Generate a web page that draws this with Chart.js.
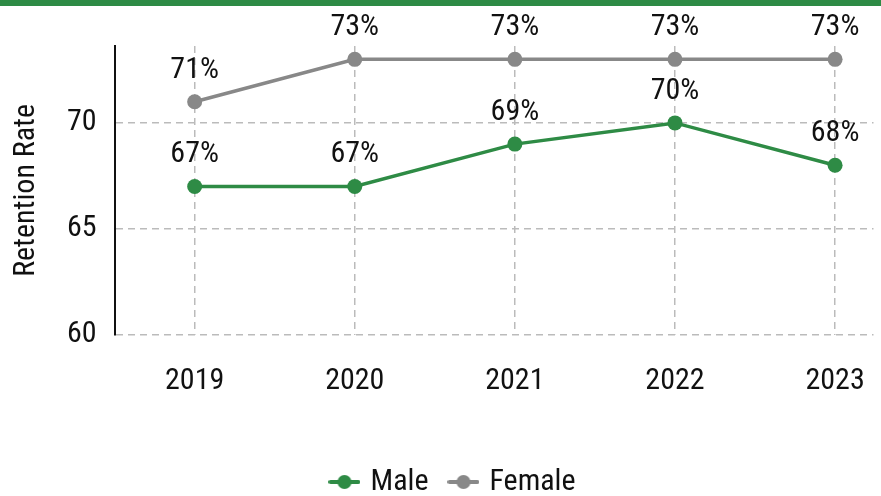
<!DOCTYPE html>
<html>
<head>
<meta charset="utf-8">
<script src="https://cdn.jsdelivr.net/npm/chart.js@4"></script>
<style>
  html, body { margin: 0; padding: 0; background: #fff; }
  .wrap { width: 881px; height: 490px; border-top: 6px solid #2e8b45; }
</style>
</head>
<body>
<div class="wrap"><canvas id="retentionChart" width="881" height="490"></canvas></div>
<script>
// chart data
const years = ['2019', '2020', '2021', '2022', '2023'];
const male = [67, 67, 69, 70, 68];
const female = [71, 73, 73, 73, 73];
const yTicks = [60, 65, 70];

const GREEN = '#2e8b45';
const GREY = '#888888';
const TEXT = '#111111';

Chart.defaults.font.family = "'Roboto Condensed', 'Liberation Sans Narrow', 'Arial Narrow', 'DejaVu Sans Condensed', sans-serif";
Chart.defaults.color = TEXT;

// small line+dot icon for the legend
function legendIcon(color) {
    const c = document.createElement('canvas');
    c.width = 32;
    c.height = 16;
    const g = c.getContext('2d');
    g.strokeStyle = color;
    g.lineWidth = 4;
    g.lineCap = 'round';
    g.beginPath();
    g.moveTo(2, 8);
    g.lineTo(30, 8);
    g.stroke();
    g.fillStyle = color;
    g.beginPath();
    g.arc(16, 8, 7, 0, Math.PI * 2);
    g.fill();
    return c;
}
const icons = [legendIcon(GREEN), legendIcon(GREY)];

// percent labels above every point
const valueLabels = {
    id: 'valueLabels',
    afterDatasetsDraw(chart) {
        const ctx = chart.ctx;
        ctx.save();
        ctx.font = "30px " + Chart.defaults.font.family;
        ctx.fillStyle = TEXT;
        ctx.textAlign = 'center';
        ctx.textBaseline = 'alphabetic';
        chart.data.datasets.forEach((ds, di) => {
            const meta = chart.getDatasetMeta(di);
            meta.data.forEach((pt, i) => {
                ctx.fillText(ds.data[i].y + '%', pt.x, pt.y - 24);
            });
        });
        ctx.restore();
    }
};

const toPoints = arr => arr.map((v, i) => ({ x: i, y: v }));

const ctx = document.getElementById('retentionChart').getContext('2d');
new Chart(ctx, {
    type: 'line',
    data: {
        datasets: [
            {
                label: 'Male',
                data: toPoints(male),
                borderColor: GREEN,
                backgroundColor: GREEN,
                borderWidth: 3.5,
                pointRadius: 7.5,
                pointHoverRadius: 7.5,
                pointBorderWidth: 0,
                tension: 0
            },
            {
                label: 'Female',
                data: toPoints(female),
                borderColor: GREY,
                backgroundColor: GREY,
                borderWidth: 3.5,
                pointRadius: 7.5,
                pointHoverRadius: 7.5,
                pointBorderWidth: 0,
                tension: 0
            }
        ]
    },
    options: {
        responsive: false,
        animation: false,
        layout: {
            padding: { top: 40, left: 28, right: 0, bottom: -11 }
        },
        scales: {
            x: {
                type: 'linear',
                min: -0.5,
                max: 4.24,
                afterBuildTicks: axis => { axis.ticks = years.map((_, i) => ({ value: i })); },
                afterFit: axis => { axis.paddingRight = 0; },
                ticks: {
                    padding: 29,
                    font: { size: 30 },
                    color: TEXT,
                    callback: v => years[v]
                },
                grid: {
                    color: '#bbbbbb',
                    lineWidth: 1.5,
                    drawTicks: false
                },
                border: { display: false, dash: [7, 5] }
            },
            y: {
                min: 60,
                max: 73.63,
                afterBuildTicks: axis => { axis.ticks = yTicks.map(v => ({ value: v })); },
                ticks: {
                    padding: 18,
                    font: { size: 30 },
                    color: TEXT
                },
                grid: {
                    color: '#bbbbbb',
                    lineWidth: 1.5,
                    drawTicks: false
                },
                border: { display: true, color: '#111111', width: 2, dash: [7, 5] },
                title: {
                    display: true,
                    text: 'Retention Rate',
                    font: { size: 30 },
                    color: TEXT,
                    padding: { top: -20, bottom: 5 }
                }
            }
        },
        plugins: {
            legend: {
                position: 'bottom',
                title: {
                    display: true,
                    text: ' ',
                    font: { size: 1 },
                    padding: { top: 0, bottom: 13 }
                },
                labels: {
                    usePointStyle: true,
                    pointStyleWidth: 22,
                    boxHeight: 16,
                    padding: 24,
                    font: { size: 30 },
                    color: TEXT,
                    generateLabels(chart) {
                        const items = Chart.defaults.plugins.legend.labels.generateLabels(chart);
                        items.forEach((it, i) => { it.pointStyle = icons[i]; });
                        return items;
                    }
                }
            },
            tooltip: { enabled: false }
        }
    },
    plugins: [valueLabels]
});
</script>
</body>
</html>
